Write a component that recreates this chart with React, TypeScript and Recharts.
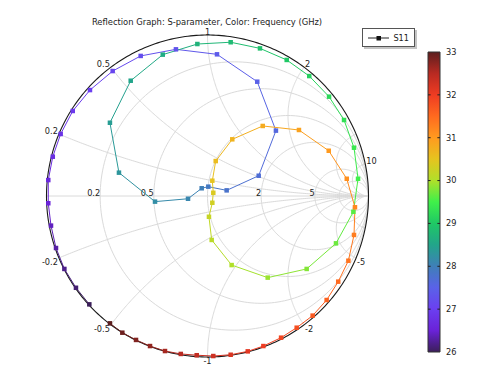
import {
	Legend,
	ReferenceArea,
	ReferenceLine,
	Scatter,
	ScatterChart,
	XAxis,
	YAxis,
} from "recharts";

const FONT = "'DejaVu Sans', Verdana, sans-serif";
const TEXT_SIZE = 8.2;

// S11 sweep, 26-33 GHz in 0.1 GHz steps (reflection coefficient)
const freqGHz = [
	26.0, 26.1, 26.2, 26.3, 26.4, 26.5, 26.6, 26.7, 26.8, 26.9,
	27.0, 27.1, 27.2, 27.3, 27.4, 27.5, 27.6, 27.7, 27.8, 27.9,
	28.0, 28.1, 28.2, 28.3, 28.4, 28.5, 28.6, 28.7, 28.8, 28.9,
	29.0, 29.1, 29.2, 29.3, 29.4, 29.5, 29.6, 29.7, 29.8, 29.9,
	30.0, 30.1, 30.2, 30.3, 30.4, 30.5, 30.6, 30.7, 30.8, 30.9,
	31.0, 31.1, 31.2, 31.3, 31.4, 31.5, 31.6, 31.7, 31.8, 31.9,
	32.0, 32.1, 32.2, 32.3, 32.4, 32.5, 32.6, 32.7, 32.8, 32.9,
	33.0,
];

const s11Re = [
	-0.734, -0.817, -0.889, -0.941, -0.972, -0.989, -0.989, -0.961, -0.912, -0.837,
	-0.73, -0.589, -0.415, -0.196, 0.059, 0.309, 0.425, 0.318, 0.119, 0.005,
	-0.036, -0.121, -0.326, -0.55, -0.606, -0.477, -0.278, -0.063, 0.144, 0.326,
	0.492, 0.632, 0.755, 0.848, 0.91, 0.935, 0.906, 0.798, 0.616, 0.374,
	0.15, 0.026, 0.009, 0.03, 0.036, 0.03, 0.051, 0.154, 0.343, 0.568,
	0.753, 0.865, 0.916, 0.91, 0.875, 0.812, 0.74, 0.653, 0.554, 0.457,
	0.347, 0.25, 0.144, 0.036, -0.067, -0.166, -0.264, -0.357, -0.444, -0.529,
	-0.606,
];

const s11Im = [
	-0.673, -0.57, -0.453, -0.323, -0.184, -0.045, 0.099, 0.244, 0.385, 0.528,
	0.658, 0.776, 0.87, 0.911, 0.88, 0.71, 0.406, 0.126, 0.035, 0.058,
	0.048, -0.017, -0.035, 0.145, 0.455, 0.716, 0.878, 0.944, 0.955, 0.917,
	0.845, 0.745, 0.617, 0.472, 0.3, 0.107, -0.098, -0.294, -0.453, -0.507,
	-0.429, -0.273, -0.129, -0.042, 0.02, 0.095, 0.217, 0.352, 0.435, 0.41,
	0.281, 0.107, -0.07, -0.242, -0.402, -0.532, -0.646, -0.743, -0.818, -0.88,
	-0.932, -0.965, -0.986, -0.994, -0.989, -0.981, -0.963, -0.932, -0.894, -0.849,
	-0.791,
];

// Smith grid values
const resistanceCircles = [0.2, 0.5, 1, 2, 5, 10];
const reactanceArcs = [0.2, 0.5, 1, 2, 5, 10, -0.2, -0.5, -1, -2, -5, -10];
const reactanceLabels = [0.2, 0.5, 1, 2, 10, -0.2, -0.5, -1, -2, -5];
const resistanceLabels = [0.2, 0.5, 2, 5];
const colorbarTicks = [26, 27, 28, 29, 30, 31, 32, 33];

// rainbow-ish colour table used for the frequency colouring
const CMAP: [number, string][] = [
	[26.0, "#3c1f5a"],
	[26.2, "#4d1f8c"],
	[26.5, "#6a22d8"],
	[27.0, "#6b3ff0"],
	[27.5, "#5a62e8"],
	[28.0, "#3f7fb8"],
	[28.5, "#22a58a"],
	[29.0, "#1fc865"],
	[29.5, "#3ff04a"],
	[30.0, "#b0e02a"],
	[30.5, "#e6c41f"],
	[31.0, "#ff9a1f"],
	[31.5, "#ff6a1f"],
	[32.0, "#ef3c22"],
	[32.5, "#b82a22"],
	[33.0, "#5c1e1e"],
];

function hexRgb(h: string) {
	const n = parseInt(h.slice(1), 16);
	return [(n >> 16) & 255, (n >> 8) & 255, n & 255];
}

function freqColor(f: number) {
	if (f <= CMAP[0][0]) return CMAP[0][1];
	for (let i = 1; i < CMAP.length; i++) {
		if (f <= CMAP[i][0]) {
			const [f0, c0] = CMAP[i - 1];
			const [f1, c1] = CMAP[i];
			const t = (f - f0) / (f1 - f0);
			const a = hexRgb(c0);
			const b = hexRgb(c1);
			const m = a.map((v, k) => Math.round(v + (b[k] - v) * t));
			return `rgb(${m[0]},${m[1]},${m[2]})`;
		}
	}
	return CMAP[CMAP.length - 1][1];
}

// z = r + jx  ->  Gamma
function gamma(r: number, x: number) {
	const d = (r + 1) * (r + 1) + x * x;
	return { x: (r * r - 1 + x * x) / d, y: (2 * x) / d };
}

function circlePts(cx: number, rad: number, n = 200) {
	const pts = [];
	for (let i = 0; i <= n; i++) {
		const t = (i / n) * 2 * Math.PI;
		pts.push({ x: cx + rad * Math.cos(t), y: rad * Math.sin(t) });
	}
	return pts;
}

function reactancePts(xv: number, n = 160) {
	const pts = [];
	for (let i = 0; i < n; i++) {
		const t = i / n;
		pts.push(gamma(t / (1 - t), xv));
	}
	pts.push({ x: 1, y: 0 });
	return pts;
}

const points = freqGHz.map((f, i) => ({ x: s11Re[i], y: s11Im[i], f }));
const segments = points.slice(1).map((p, i) => ({
	data: [points[i], p],
	color: freqColor((points[i].f + p.f) / 2),
}));

const labelData = [
	...reactanceLabels.map((v) => ({ ...gamma(0, v), text: String(v), kind: "x" })),
	...resistanceLabels.map((v) => ({ ...gamma(v, 0), text: String(v), kind: "r" })),
];

const noShape = () => <g />;

function GridLabel(props: any) {
	const { cx, cy, payload } = props;
	let anchor: "start" | "middle" | "end" = "end";
	let x = cx;
	let y = cy;
	if (payload.kind === "r") {
		y = cy - 0.5;
	} else {
		const top = payload.y > 0;
		if (Math.abs(payload.x) < 0.01) anchor = "middle";
		else if (payload.x > 0) anchor = "start";
		if (anchor === "start") x = cx + 1;
		if (anchor === "end") x = cx - 1;
		y = top ? cy - (anchor === "middle" ? 0.5 : 0) : cy + 7.3;
	}
	return (
		<text
			x={x}
			y={y}
			textAnchor={anchor}
			fontSize={TEXT_SIZE}
			fontFamily={FONT}
			fill="#222"
		>
			{payload.text}
		</text>
	);
}

function Marker(props: any) {
	const { cx, cy, payload } = props;
	return (
		<rect
			x={cx - 2.25}
			y={cy - 2.25}
			width={4.5}
			height={4.5}
			fill={freqColor(payload.f)}
		/>
	);
}

function LegendBox() {
	return (
		<div
			style={{
				border: "1px solid #555",
				boxShadow: "2px 2px 0 #c4c4c4",
				background: "#fff",
				padding: "3px 5px",
				display: "flex",
				alignItems: "center",
				fontFamily: FONT,
				fontSize: TEXT_SIZE,
				color: "#222",
				width: 41,
				height: 11,
			}}
		>
			<svg width={22} height={8} style={{ marginRight: 4 }}>
				<line x1={0} y1={4} x2={22} y2={4} stroke="#222" strokeWidth={1} />
				<rect x={8.5} y={2} width={4.5} height={4.5} fill="#111" />
			</svg>
			<span>S11</span>
		</div>
	);
}

export default function App() {
	return (
		<div
			style={{
				position: "absolute",
				left: 0,
				top: 0,
				width: 479,
				height: 366,
				background: "#fff",
			}}
		>
			<svg width={0} height={0} style={{ position: "absolute" }}>
				<defs>
					<linearGradient id="cbGrad" x1="0" y1="1" x2="0" y2="0">
						{CMAP.map(([f, c]) => (
							<stop key={f} offset={(f - 26) / 7} stopColor={c} />
						))}
					</linearGradient>
				</defs>
			</svg>

			<div
				style={{
					position: "absolute",
					left: 0,
					top: 18,
					width: 414,
					height: 9,
					textAlign: "center",
					fontFamily: FONT,
					fontSize: 8.4,
					lineHeight: "9px",
					color: "#222",
					whiteSpace: "nowrap",
				}}
			>
				Reflection Graph: S-parameter, Color: Frequency (GHz)
			</div>

			<div style={{ position: "absolute", left: 0, top: 0 }}>
				<ScatterChart
					width={479}
					height={366}
					margin={{ top: 35, right: 110.5, bottom: 9, left: 46.5 }}
				>
					<XAxis type="number" dataKey="x" domain={[-1, 1]} hide />
					<YAxis type="number" dataKey="y" domain={[-1, 1]} hide />

					{resistanceCircles.map((r) => (
						<Scatter
							key={`r${r}`}
							data={circlePts(r / (1 + r), 1 / (1 + r))}
							line={{ stroke: "#dadada", strokeWidth: 1 }}
							shape={noShape}
							isAnimationActive={false}
						/>
					))}
					{reactanceArcs.map((xv) => (
						<Scatter
							key={`x${xv}`}
							data={reactancePts(xv)}
							line={{ stroke: "#dadada", strokeWidth: 1 }}
							shape={noShape}
							isAnimationActive={false}
						/>
					))}
					<Scatter
						data={[
							{ x: -1, y: 0 },
							{ x: 1, y: 0 },
						]}
						line={{ stroke: "#dadada", strokeWidth: 1 }}
						shape={noShape}
						isAnimationActive={false}
					/>
					<Scatter
						data={circlePts(0, 1, 360)}
						line={{ stroke: "#1a1a1a", strokeWidth: 1.1 }}
						shape={noShape}
						isAnimationActive={false}
					/>

					<Scatter
						data={labelData}
						shape={GridLabel}
						isAnimationActive={false}
					/>

					{segments.map((s, i) => (
						<Scatter
							key={`seg${i}`}
							data={s.data}
							line={{ stroke: s.color, strokeWidth: 1 }}
							shape={noShape}
							isAnimationActive={false}
						/>
					))}
					<Scatter
						name="S11"
						data={points}
						shape={Marker}
						isAnimationActive={false}
					/>

					<Legend
						layout="horizontal"
						verticalAlign="middle"
						align="center"
						content={() => <LegendBox />}
						wrapperStyle={{ left: 362, top: 28, width: "auto" }}
					/>
				</ScatterChart>
			</div>

			<div style={{ position: "absolute", left: 420, top: 0 }}>
				<ScatterChart
					width={59}
					height={366}
					margin={{ top: 52, right: 9, bottom: 14, left: 8 }}
				>
					<XAxis type="number" dataKey="x" domain={[0, 1]} hide />
					<YAxis
						type="number"
						dataKey="y"
						domain={[26, 33]}
						ticks={colorbarTicks}
						interval={0}
						orientation="right"
						width={30}
						axisLine={false}
						tickLine={false}
						tickSize={3}
						tickMargin={3}
						tick={{ fontSize: TEXT_SIZE, fill: "#222", fontFamily: FONT }}
					/>
					<ReferenceArea
						x1={0}
						x2={1}
						y1={26}
						y2={33}
						fill="url(#cbGrad)"
						fillOpacity={1}
						stroke="#333"
						strokeWidth={1}
					/>
					{colorbarTicks.slice(1, -1).map((t) => (
						<ReferenceLine
							key={`a${t}`}
							segment={[
								{ x: 0, y: t },
								{ x: 0.22, y: t },
							]}
							stroke="#222"
						/>
					))}
					{colorbarTicks.slice(1, -1).map((t) => (
						<ReferenceLine
							key={`b${t}`}
							segment={[
								{ x: 0.78, y: t },
								{ x: 1, y: t },
							]}
							stroke="#222"
						/>
					))}
					<Scatter
						data={colorbarTicks.map((t) => ({ x: 0.5, y: t }))}
						shape={noShape}
						isAnimationActive={false}
					/>
				</ScatterChart>
			</div>
		</div>
	);
}
